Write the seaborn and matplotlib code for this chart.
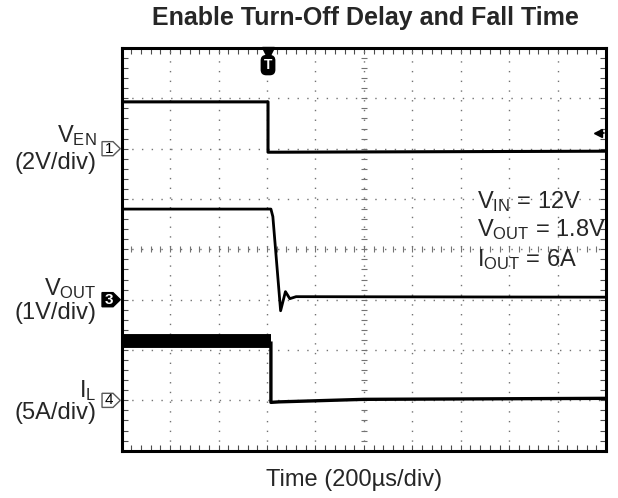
import matplotlib
matplotlib.use('Agg')
import matplotlib.pyplot as plt
import seaborn as sns
import numpy as np
import pandas as pd
from matplotlib.patches import Polygon

# scope screen in divisions: x 0..10, y 0..8
ven_t = [0.0, 3.02, 3.02, 3.2, 10.0]
ven_v = [6.93, 6.93, 5.93, 5.93, 5.95]

vout_t = [0.0, 3.08, 3.12, 3.28, 3.38, 3.47, 3.6, 10.0]
vout_v = [4.80, 4.80, 4.65, 2.78, 3.16, 3.02, 3.06, 3.05]

il_hi_t = [0.0, 3.08]
il_hi_v = [2.17, 2.17]
il_lo_t = [3.08, 3.08, 3.25, 5.0, 10.0]
il_lo_v = [2.17, 0.96, 0.97, 1.02, 1.04]

ch_names = ['1', '3', '4']
ch_levels = [6.0, 3.0, 1.0]
ch_filled = [False, True, False]
trig_t = 3.02
trig_level = 6.32

sns.set_style('white')
plt.rcParams['font.family'] = ['Liberation Sans', 'DejaVu Sans']
plt.rcParams['mathtext.fontset'] = 'custom'
plt.rcParams['mathtext.rm'] = 'Liberation Sans'
plt.rcParams['mathtext.default'] = 'regular'

fig = plt.figure(figsize=(6.18, 4.98), dpi=100)
ax = fig.add_axes([0.197, 0.095, 0.7837, 0.8086])
ax.set_xlim(0, 10)
ax.set_ylim(0, 8)

# dotted graticule
for gx in range(1, 10):
    ax.axvline(gx, color='0.45', lw=1, ls=(0, (1, 6)), zorder=1)
for gy in range(1, 8):
    ax.axhline(gy, color='0.45', lw=1, ls=(0, (1, 6)), zorder=1)
# centre cross with small ticks
minor_x = np.arange(0.2, 10, 0.2)
minor_y = np.arange(0.2, 8, 0.2)
ax.plot(minor_x, np.full_like(minor_x, 4), ls='none', marker='|', ms=5, mew=0.8, color='0.45', zorder=1)
ax.plot(np.full_like(minor_y, 5), minor_y, ls='none', marker='_', ms=5, mew=0.8, color='0.45', zorder=1)

# traces
def trace(t, v, lw):
    df = pd.DataFrame({'t': t, 'v': v})
    sns.lineplot(data=df, x='t', y='v', ax=ax, estimator=None, sort=False,
                 color='black', lw=lw, zorder=3, solid_capstyle='butt')

trace(ven_t, ven_v, 2.2)
trace(vout_t, vout_v, 2.0)
trace(il_hi_t, il_hi_v, 10)
trace(il_lo_t, il_lo_v, 2.4)

# frame
for s in ax.spines.values():
    s.set_visible(True)
    s.set_linewidth(2.2)
    s.set_color('black')
ax.set_xticks(range(0, 11))
ax.set_yticks(range(0, 9))
ax.set_xticks(minor_x, minor=True)
ax.set_yticks(minor_y, minor=True)
ax.tick_params(which='both', direction='in', length=4, width=0.8, color='0.3',
               top=True, right=True, bottom=True, left=True,
               labelbottom=False, labelleft=False)
ax.set_xlabel('')
ax.set_ylabel('')

# channel markers on the left edge
ytr = ax.get_yaxis_transform()
for name, lev, filled in zip(ch_names, ch_levels, ch_filled):
    pts = [(-0.0407, lev - 0.14), (-0.018, lev - 0.14), (-0.003, lev),
           (-0.018, lev + 0.14), (-0.0407, lev + 0.14)]
    poly = Polygon(pts, closed=True, transform=ytr, clip_on=False,
                   facecolor='black' if filled else 'white',
                   edgecolor='black' if filled else '0.35', lw=1.0, zorder=5)
    ax.add_patch(poly)
    ax.text(-0.027, lev, name, transform=ytr, ha='center', va='center',
            fontsize=11, fontweight='bold' if filled else 'normal',
            color='white' if filled else 'black', clip_on=False, zorder=6)

# trigger marker at top
ax.plot([trig_t], [7.9], marker='v', ms=9, color='black', clip_on=False, zorder=6)
ax.text(trig_t, 7.66, 'T', ha='center', va='center', fontsize=10, fontweight='bold',
        color='white', zorder=6,
        bbox=dict(boxstyle='round,pad=0.18,rounding_size=0.35', fc='black', ec='black'))
# trigger level arrow at right
ax.plot([9.83, 9.95], [trig_level, trig_level], color='black', lw=1.2, zorder=4)
ax.plot([9.84], [trig_level], marker='<', ms=6, color='black', ls='none', zorder=4)

# channel labels
lx = -0.052
ax.text(lx, 6.27, r'V$_{EN}$', transform=ytr, ha='right', va='center', fontsize=17, clip_on=False)
ax.text(lx, 5.72, '(2V/div)', transform=ytr, ha='right', va='center', fontsize=17, clip_on=False)
ax.text(lx, 3.22, r'V$_{OUT}$', transform=ytr, ha='right', va='center', fontsize=17, clip_on=False)
ax.text(lx, 2.74, '(1V/div)', transform=ytr, ha='right', va='center', fontsize=17, clip_on=False)
ax.text(lx, 1.2, r'I$_{L}$', transform=ytr, ha='right', va='center', fontsize=17, clip_on=False)
ax.text(lx, 0.75, '(5A/div)', transform=ytr, ha='right', va='center', fontsize=17, clip_on=False)

# test conditions
ax.text(7.33, 4.95, r'V$_{IN}$ = 12V', ha='left', va='center', fontsize=17, zorder=4)
ax.text(7.33, 4.40, r'V$_{OUT}$ = 1.8V', ha='left', va='center', fontsize=17, zorder=4)
ax.text(7.33, 3.80, r'I$_{OUT}$ = 6A', ha='left', va='center', fontsize=17, zorder=4)

fig.text(0.5906, 1 - 18 / 498, 'Enable Turn-Off Delay and Fall Time', ha='center', va='center',
         fontsize=18, fontweight='bold')
fig.text(0.573, 1 - 480 / 498, 'Time (200µs/div)', ha='center', va='center', fontsize=17)

fig.savefig('out.png', dpi=100, facecolor='white')
plt.close(fig)
